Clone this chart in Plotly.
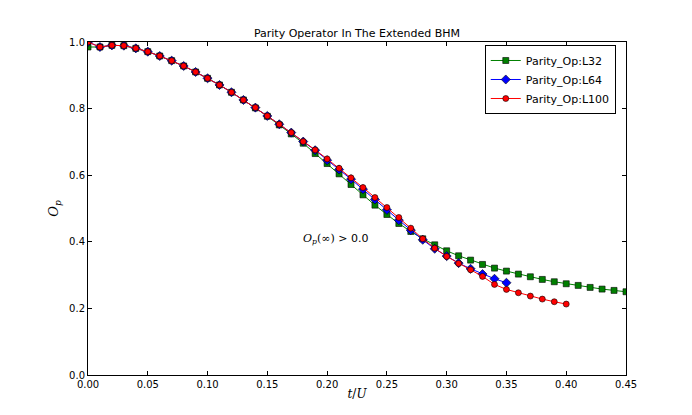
import plotly.graph_objects as go

# time grid t/U
t = [0.00, 0.01, 0.02, 0.03, 0.04, 0.05, 0.06, 0.07, 0.08, 0.09,
     0.10, 0.11, 0.12, 0.13, 0.14, 0.15, 0.16, 0.17, 0.18, 0.19,
     0.20, 0.21, 0.22, 0.23, 0.24, 0.25, 0.26, 0.27, 0.28, 0.29,
     0.30, 0.31, 0.32, 0.33, 0.34, 0.35, 0.36, 0.37, 0.38, 0.39,
     0.40, 0.41, 0.42, 0.43, 0.44, 0.45]

# parity operator values
op_L32 = [0.985, 0.985, 0.990, 0.989, 0.981, 0.971, 0.958, 0.944, 0.928, 0.910,
          0.891, 0.871, 0.849, 0.826, 0.802, 0.777, 0.751, 0.724, 0.696, 0.665,
          0.635, 0.604, 0.572, 0.541, 0.510, 0.482, 0.455, 0.431, 0.409, 0.391,
          0.373, 0.358, 0.345, 0.332, 0.321, 0.312, 0.303, 0.295, 0.287, 0.280,
          0.274, 0.269, 0.263, 0.258, 0.254, 0.250]

op_L64 = [1.000, 0.985, 0.990, 0.989, 0.981, 0.971, 0.958, 0.944, 0.928, 0.910,
          0.891, 0.871, 0.849, 0.826, 0.803, 0.778, 0.753, 0.728, 0.701, 0.675,
          0.645, 0.617, 0.588, 0.558, 0.527, 0.496, 0.465, 0.435, 0.406, 0.379,
          0.357, 0.336, 0.319, 0.303, 0.289, 0.277]

op_L100 = [1.000, 0.985, 0.990, 0.989, 0.981, 0.971, 0.958, 0.944, 0.928, 0.910,
           0.891, 0.871, 0.849, 0.826, 0.803, 0.778, 0.753, 0.728, 0.701, 0.676,
           0.649, 0.621, 0.592, 0.563, 0.533, 0.503, 0.473, 0.441, 0.409, 0.381,
           0.356, 0.335, 0.316, 0.296, 0.272, 0.257, 0.247, 0.237, 0.228, 0.220,
           0.213]

x_ticks = [0.00, 0.05, 0.10, 0.15, 0.20, 0.25, 0.30, 0.35, 0.40, 0.45]
y_ticks = [0.0, 0.2, 0.4, 0.6, 0.8, 1.0]

SANS = 'DejaVu Sans'
SERIF = 'DejaVu Serif'


def series(y, name, color, symbol, size):
    return go.Scatter(
        x=t[:len(y)], y=y, name=name, mode='lines+markers',
        line=dict(color=color, width=1),
        marker=dict(symbol=symbol, size=size, color=color,
                    line=dict(color='black', width=0.6)),
    )


fig = go.Figure([
    series(op_L32, 'Parity_Op:L32', '#008000', 'square', 6),
    series(op_L64, 'Parity_Op:L64', '#0000ff', 'diamond', 7),
    series(op_L100, 'Parity_Op:L100', '#ff0000', 'circle', 6),
])

axis_style = dict(
    showline=True, mirror='ticks', linecolor='black', linewidth=1,
    ticks='inside', ticklen=4, tickcolor='black',
    showgrid=False, zeroline=False,
    tickfont=dict(family=SANS, size=10, color='black'),
)

fig.update_layout(
    width=692, height=415,
    margin=dict(l=80, r=74, t=34, b=48),
    paper_bgcolor='white', plot_bgcolor='white',
    title=dict(text='Parity Operator In The Extended BHM',
               x=0.5, xref='paper', y=0.93, yanchor='bottom',
               font=dict(family=SANS, size=11, color='black')),
    xaxis=dict(range=[0, 0.45], tickvals=x_ticks, tickformat='.2f',
               title=dict(text='<i>t</i>/<i>U</i>', standoff=0,
                          font=dict(family=SERIF, size=12, color='black')),
               **axis_style),
    yaxis=dict(range=[0, 1.0], tickvals=y_ticks, tickformat='.1f',
               title=dict(text='<i>O</i><sub><i>p</i></sub>', standoff=7,
                          font=dict(family=SERIF, size=13, color='black')),
               **axis_style),
    legend=dict(x=0.981, y=0.991, xanchor='right', yanchor='top',
                bordercolor='black', borderwidth=1, bgcolor='white',
                font=dict(family=SANS, size=11, color='black'),
                tracegroupgap=0, itemwidth=30),
    showlegend=True,
)

fig.add_annotation(
    x=0.178, y=0.408, xref='x', yref='y', xanchor='left', yanchor='middle',
    showarrow=False,
    text=('<span style="font-family:DejaVu Serif"><i>O</i><sub><i>p</i></sub>(∞)</span>'
          ' > 0.0'),
    font=dict(family=SANS, size=11, color='black'),
)

fig.write_html("out.html")
